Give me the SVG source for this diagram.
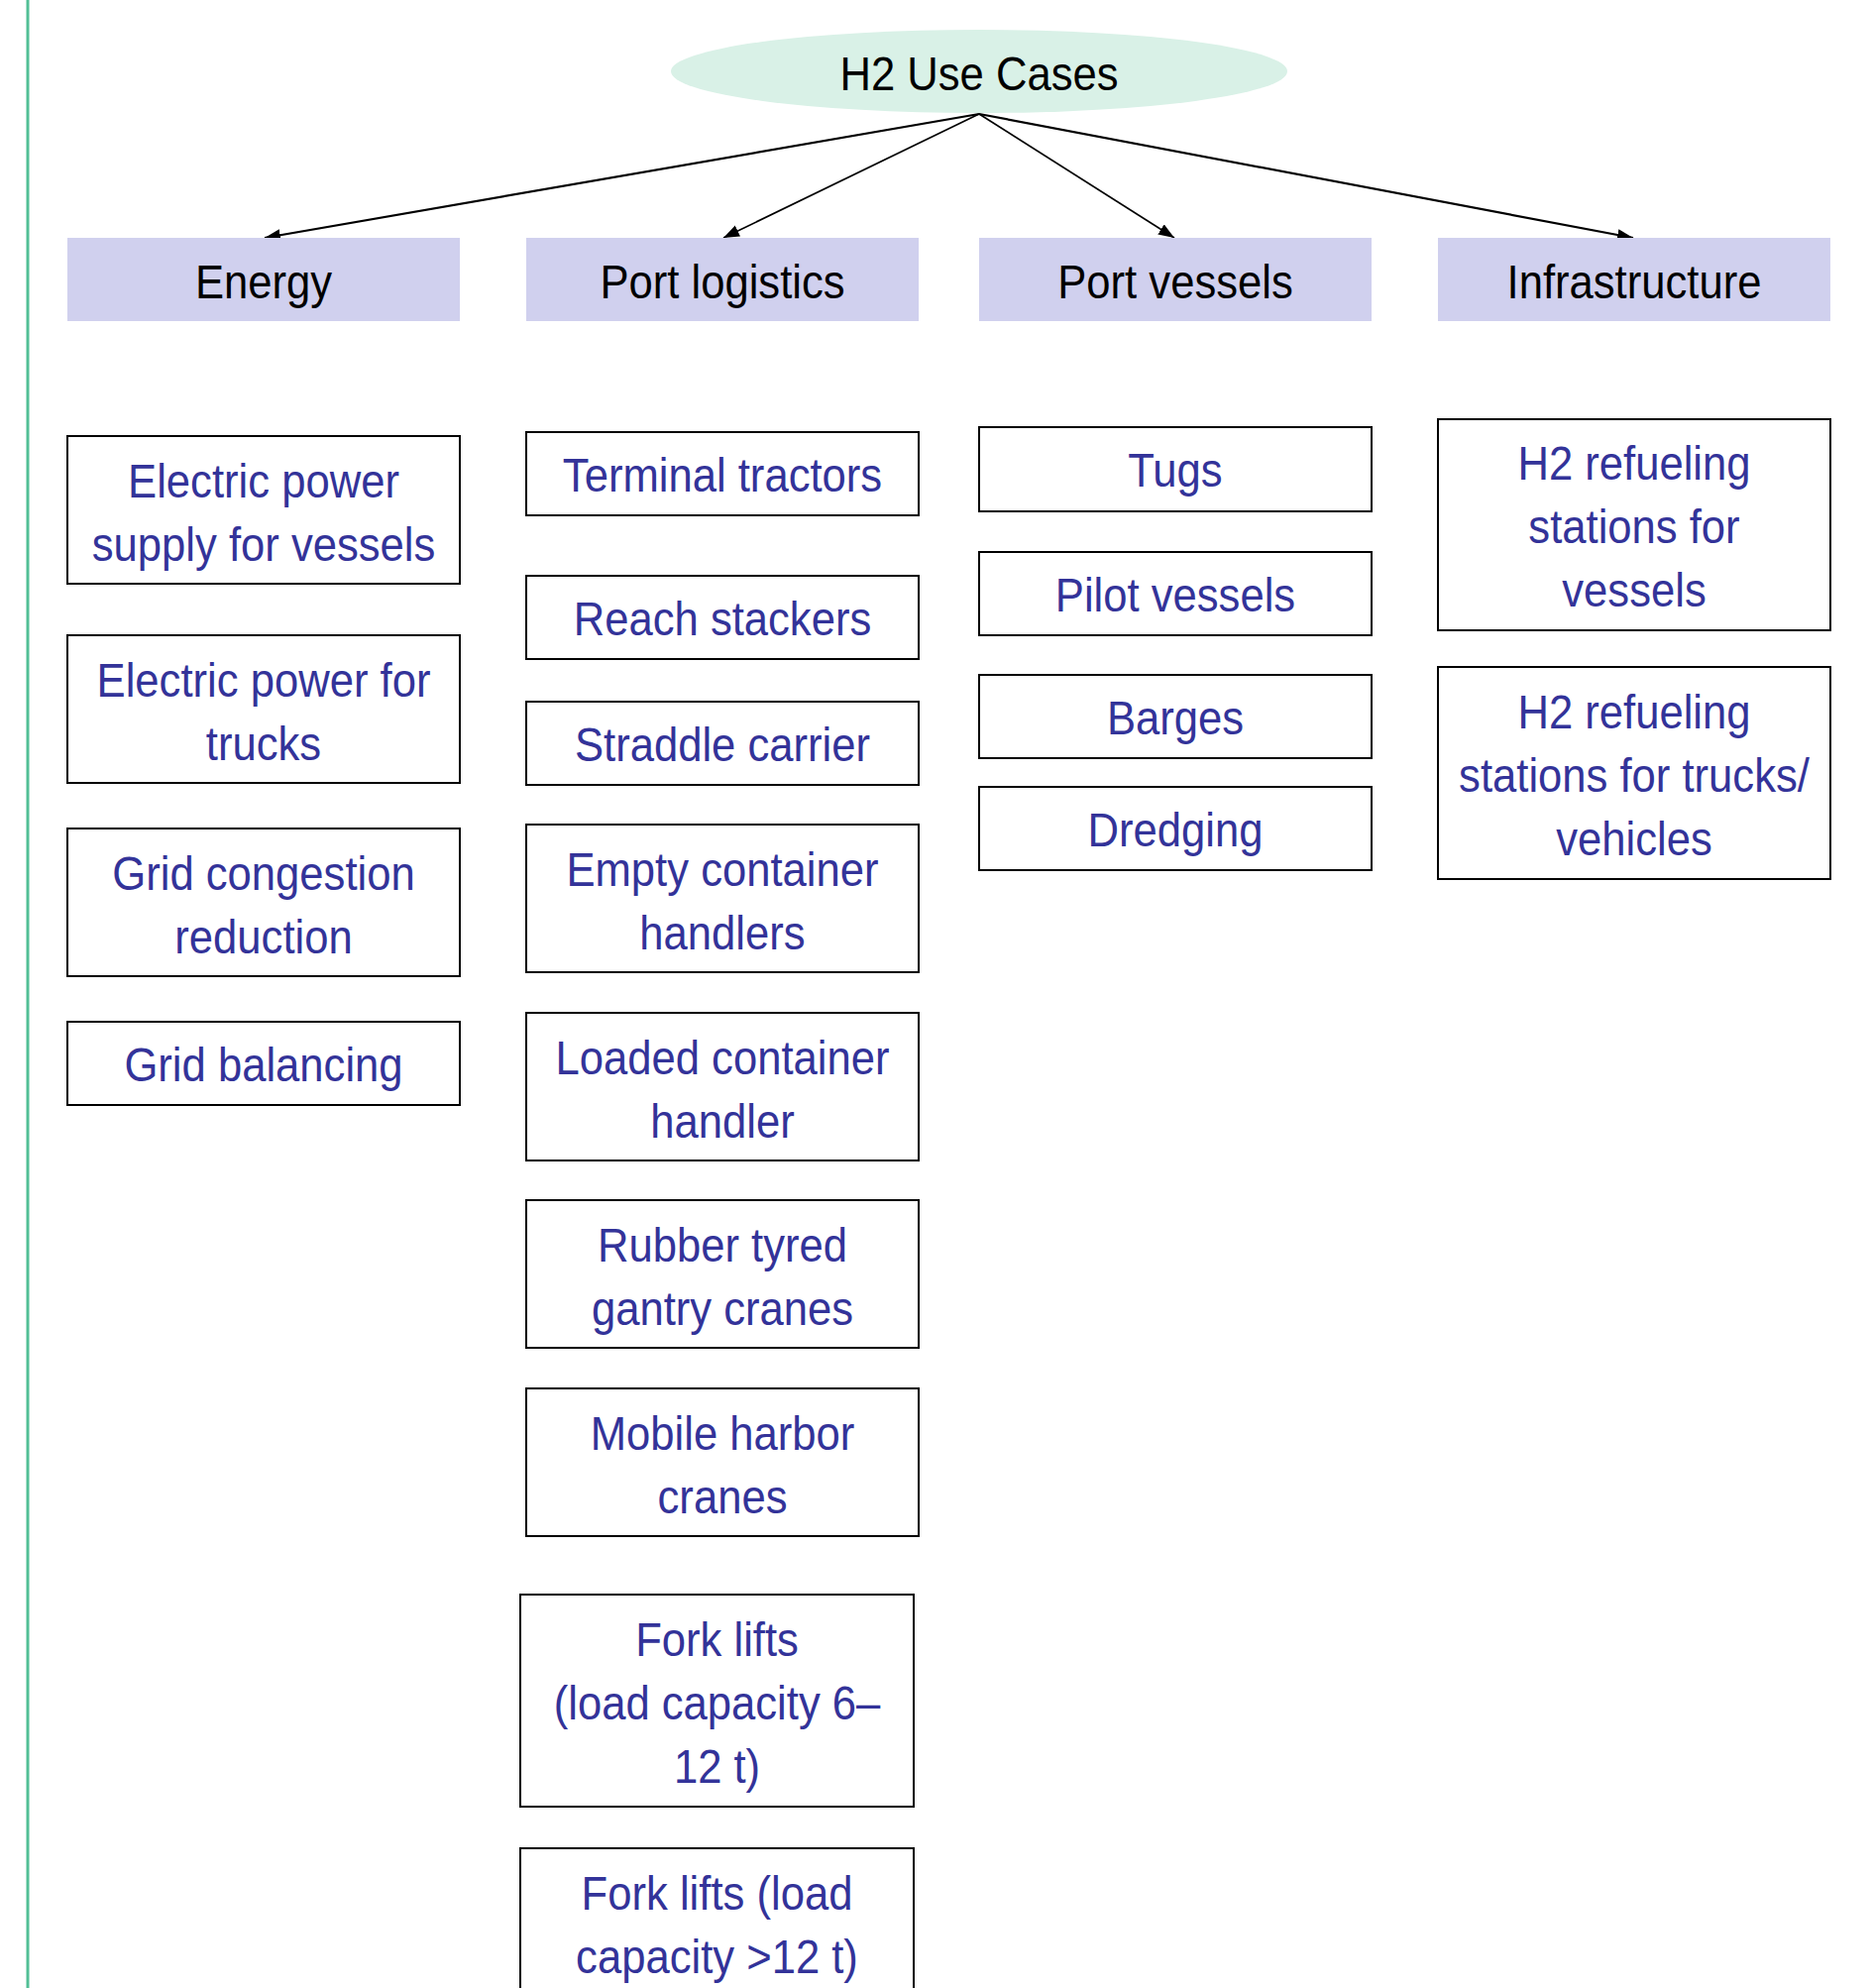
<svg xmlns="http://www.w3.org/2000/svg" width="1890" height="2006" viewBox="0 0 1890 2006">
<style>
.t{font-family:"Liberation Sans",Arial,sans-serif;font-size:49px;text-anchor:middle;}
.blk{fill:#000;}
.blu{fill:#333399;}
.cat{fill:#d0d0ee;stroke:none;}
.item{fill:#fff;stroke:#000;stroke-width:2;}
.con{stroke:#000;fill:none;}
</style>
<defs>
<marker id="ah" markerUnits="userSpaceOnUse" markerWidth="18" markerHeight="14" refX="16" refY="6" orient="auto">
<path d="M0,0 L16,6 L0,12 z" fill="#000"/>
</marker>
</defs>
<rect x="0" y="0" width="1890" height="2006" fill="#fff"/>
<line x1="28" y1="0" x2="28" y2="2006" stroke="#52bf96" stroke-width="3"/>

<g id="root">
<ellipse cx="988" cy="72" rx="311" ry="42" fill="#d9f1e7"/>
<text class="t blk" transform="translate(988 0) scale(0.89 1)" x="0" y="91">H2 Use Cases</text>
</g>

<g id="connectors">
<line class="con" x1="988" y1="115" x2="267" y2="240" stroke-width="2.2" marker-end="url(#ah)"/>
<line class="con" x1="988" y1="115" x2="730" y2="240" stroke-width="1.6" marker-end="url(#ah)"/>
<line class="con" x1="988" y1="115" x2="1185" y2="240" stroke-width="1.6" marker-end="url(#ah)"/>
<line class="con" x1="988" y1="115" x2="1648" y2="240" stroke-width="2.2" marker-end="url(#ah)"/>
</g>

<g id="cat-energy"><rect class="cat" x="68" y="240" width="396" height="84"/><text class="t blk" transform="translate(266 0) scale(0.89 1)" x="0" y="301">Energy</text></g>
<g id="cat-logistics"><rect class="cat" x="531" y="240" width="396" height="84"/><text class="t blk" transform="translate(729 0) scale(0.89 1)" x="0" y="301">Port logistics</text></g>
<g id="cat-vessels"><rect class="cat" x="988" y="240" width="396" height="84"/><text class="t blk" transform="translate(1186 0) scale(0.89 1)" x="0" y="301">Port vessels</text></g>
<g id="cat-infra"><rect class="cat" x="1451" y="240" width="396" height="84"/><text class="t blk" transform="translate(1649 0) scale(0.89 1)" x="0" y="301">Infrastructure</text></g>

<!-- Energy column -->
<g id="e1"><rect class="item" x="68" y="440" width="396" height="149"/>
<text class="t blu" transform="translate(266 0) scale(0.89 1)"><tspan x="0" y="502">Electric power</tspan><tspan x="0" y="566">supply for vessels</tspan></text></g>
<g id="e2"><rect class="item" x="68" y="641" width="396" height="149"/>
<text class="t blu" transform="translate(266 0) scale(0.89 1)"><tspan x="0" y="703">Electric power for</tspan><tspan x="0" y="767">trucks</tspan></text></g>
<g id="e3"><rect class="item" x="68" y="836" width="396" height="149"/>
<text class="t blu" transform="translate(266 0) scale(0.89 1)"><tspan x="0" y="898">Grid congestion</tspan><tspan x="0" y="962">reduction</tspan></text></g>
<g id="e4"><rect class="item" x="68" y="1031" width="396" height="84"/>
<text class="t blu" transform="translate(266 0) scale(0.89 1)" x="0" y="1091">Grid balancing</text></g>

<!-- Port logistics column -->
<g id="l1"><rect class="item" x="531" y="436" width="396" height="84"/>
<text class="t blu" transform="translate(729 0) scale(0.89 1)" x="0" y="496">Terminal tractors</text></g>
<g id="l2"><rect class="item" x="531" y="581" width="396" height="84"/>
<text class="t blu" transform="translate(729 0) scale(0.89 1)" x="0" y="641">Reach stackers</text></g>
<g id="l3"><rect class="item" x="531" y="708" width="396" height="84"/>
<text class="t blu" transform="translate(729 0) scale(0.89 1)" x="0" y="768">Straddle carrier</text></g>
<g id="l4"><rect class="item" x="531" y="832" width="396" height="149"/>
<text class="t blu" transform="translate(729 0) scale(0.89 1)"><tspan x="0" y="894">Empty container</tspan><tspan x="0" y="958">handlers</tspan></text></g>
<g id="l5"><rect class="item" x="531" y="1022" width="396" height="149"/>
<text class="t blu" transform="translate(729 0) scale(0.89 1)"><tspan x="0" y="1084">Loaded container</tspan><tspan x="0" y="1148">handler</tspan></text></g>
<g id="l6"><rect class="item" x="531" y="1211" width="396" height="149"/>
<text class="t blu" transform="translate(729 0) scale(0.89 1)"><tspan x="0" y="1273">Rubber tyred</tspan><tspan x="0" y="1337">gantry cranes</tspan></text></g>
<g id="l7"><rect class="item" x="531" y="1401" width="396" height="149"/>
<text class="t blu" transform="translate(729 0) scale(0.89 1)"><tspan x="0" y="1463">Mobile harbor</tspan><tspan x="0" y="1527">cranes</tspan></text></g>
<g id="l8"><rect class="item" x="525" y="1609" width="397" height="214"/>
<text class="t blu" transform="translate(723.5 0) scale(0.89 1)"><tspan x="0" y="1671">Fork lifts</tspan><tspan x="0" y="1735">(load capacity 6–</tspan><tspan x="0" y="1799">12 t)</tspan></text></g>
<g id="l9"><rect class="item" x="525" y="1865" width="397" height="149"/>
<text class="t blu" transform="translate(723.5 0) scale(0.89 1)"><tspan x="0" y="1927">Fork lifts (load</tspan><tspan x="0" y="1991">capacity &gt;12 t)</tspan></text></g>

<!-- Port vessels column -->
<g id="v1"><rect class="item" x="988" y="431" width="396" height="85"/>
<text class="t blu" transform="translate(1186 0) scale(0.89 1)" x="0" y="491">Tugs</text></g>
<g id="v2"><rect class="item" x="988" y="557" width="396" height="84"/>
<text class="t blu" transform="translate(1186 0) scale(0.89 1)" x="0" y="617">Pilot vessels</text></g>
<g id="v3"><rect class="item" x="988" y="681" width="396" height="84"/>
<text class="t blu" transform="translate(1186 0) scale(0.89 1)" x="0" y="741">Barges</text></g>
<g id="v4"><rect class="item" x="988" y="794" width="396" height="84"/>
<text class="t blu" transform="translate(1186 0) scale(0.89 1)" x="0" y="854">Dredging</text></g>

<!-- Infrastructure column -->
<g id="i1"><rect class="item" x="1451" y="423" width="396" height="213"/>
<text class="t blu" transform="translate(1649 0) scale(0.89 1)"><tspan x="0" y="484">H2 refueling</tspan><tspan x="0" y="548">stations for</tspan><tspan x="0" y="612">vessels</tspan></text></g>
<g id="i2"><rect class="item" x="1451" y="673" width="396" height="214"/>
<text class="t blu" transform="translate(1649 0) scale(0.89 1)"><tspan x="0" y="735">H2 refueling</tspan><tspan x="0" y="799">stations for trucks/</tspan><tspan x="0" y="863">vehicles</tspan></text></g>
</svg>
